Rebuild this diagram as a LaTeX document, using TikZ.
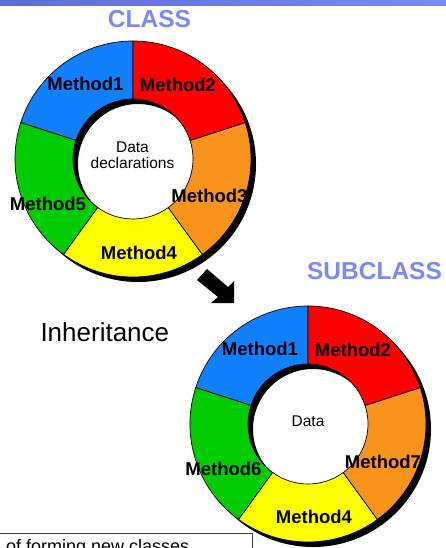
\documentclass[tikz,border=0pt]{standalone}
\usepackage{fontspec}
\setmainfont{Liberation Sans}
\definecolor{segblue}{RGB}{16,128,255}
\definecolor{segred}{RGB}{255,0,0}
\definecolor{segorange}{RGB}{248,148,28}
\definecolor{segyellow}{RGB}{255,255,0}
\definecolor{seggreen}{RGB}{0,204,0}
\definecolor{titleblue}{RGB}{122,138,242}
\definecolor{barleft}{RGB}{98,106,212}
\definecolor{barright}{RGB}{124,136,248}
\tikzset{
  % five-part ring with a dropped shadow; angles are screen angles (y axis points down)
  donut/.pic={
    \fill[black, even odd rule] (5,5) circle[radius=118] (5,5) circle[radius=60];
    \foreach \a/\b/\c in {90/162/segblue, 162/234/seggreen, 234/306/segyellow, 306/378/segorange, 18/90/segred}
      \filldraw[fill=\c, draw=black, line width=0.7pt]
        (-\a:118) arc[start angle=-\a, end angle=-\b, radius=118]
        -- (-\b:60) arc[start angle=-\b, end angle=-\a, radius=60] -- cycle;
  },
  method/.style={font=\fontsize{18.5}{20}\selectfont\bfseries, inner sep=0pt},
  datatext/.style={font=\fontsize{15.5}{16.5}\selectfont, align=center, inner sep=0pt},
  heading/.style={font=\fontsize{24.5}{26}\selectfont\bfseries, text=titleblue, inner sep=0pt, anchor=base},
}
\begin{document}
\begin{tikzpicture}[x=1pt, y=-1pt]
\useasboundingbox (0,0) rectangle (446,548);
\clip (0,0) rectangle (446,548);

% title bar
\shade[left color=barleft, right color=barright] (0,0) rectangle (446,6);

% base class ring
\pic at (133,159) {donut};
\node[heading] (clstitle) at (149.5,27.7) {CLASS};
\node[method] (c1) at (85.5,84) {Method1};
\node[method] (c2) at (178,85) {Method2};
\node[method] (c3) at (209.5,196) {Method3};
\node[method] (c5) at (48,203.5) {Method5};
\node[method] (c4) at (139,253) {Method4};
\node[datatext] (cdata) at (132.5,155) {Data\\declarations};

% block arrow
\fill[black] (207,269) -- (228,287) -- (234,281) -- (234,303) -- (211,303) -- (218,297) -- (197,280) -- cycle;

\node[font=\fontsize{26}{28}\selectfont, inner sep=0pt, anchor=base west] (inh) at (40.3,341.7) {Inheritance};

% derived class ring
\pic at (308,424) {donut};
\node[heading] (subtitle) at (374.5,279) {SUBCLASS};
\node[method] (s1) at (260,349) {Method1};
\node[method] (s2) at (353,350) {Method2};
\node[method] (s7) at (383,461.5) {Method7};
\node[method] (s6) at (223.5,468.5) {Method6};
\node[method] (s4) at (314,517) {Method4};
\node[datatext] (sdata) at (308,421) {Data};

% text box along the bottom edge
\draw[line width=0.8pt, black!75] (0,533) -- (252,533) -- (252,548);
\node[font=\fontsize{18}{20}\selectfont, inner sep=0pt, anchor=base west] (note) at (6,552.5) {of forming new classes};
\end{tikzpicture}
\end{document}
